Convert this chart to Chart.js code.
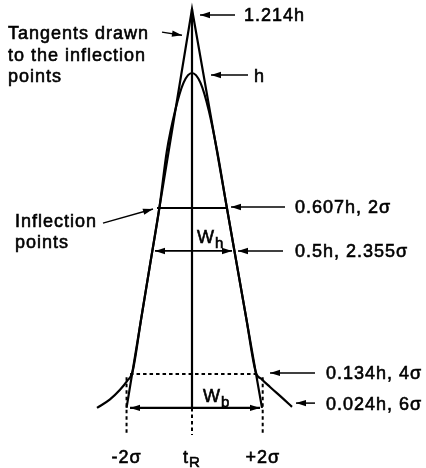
<!DOCTYPE html>
<html lang="en">
<head>
<meta charset="UTF-8">
<title>Gaussian peak | tangents and widths</title>
<script src="https://cdn.jsdelivr.net/npm/chart.js"></script>
<style>
  html, body { margin: 0; padding: 0; background: #fff; }
  #wrap { width: 426px; height: 468px; }
</style>
</head>
<body>
<div id="wrap"><canvas id="myChart" width="426" height="468"></canvas></div>
<script>
// x in units of sigma (t_R = 0), y in units of peak height h
var peakX = [-2.714, -2.343, -2.057, -1.857, -1.70, -1.45, -1.2, -0.93, -0.72, -0.48, -0.24, 0,
             0.24, 0.48, 0.72, 0.997, 1.25, 1.55, 1.82, 2.0, 2.229, 2.571, 2.857];
var peakY = [0.025, 0.050, 0.078, 0.103, 0.130, 0.286, 0.441, 0.609, 0.772, 0.891, 0.972, 1.0,
             0.972, 0.891, 0.772, 0.607, 0.460, 0.286, 0.130, 0.108, 0.086, 0.055, 0.028];

// tangents through the inflection points: left foot, apex, right foot
var tangentX = [-1.87, 0, 2.0];
var tangentY = [0.025, 1.186, 0.025];

// horizontal levels as drawn
var inflectionLevel = 0.607;
var inflectionX = [-1.0, 1.0];
var halfLevel = 0.482;
var halfWidthX = [-1.057, 1.143];
var dottedLevel = 0.124;
var dottedX = [-1.77, 1.83];
var baseLevel = 0.025;
var baseWidthX = [-1.771, 1.943];
var dropEnd = -0.054;

// axis marks
var tickValues = [-1.87, 0, 2.02];
var tickLabels = ['-2\u03c3', 't', '+2\u03c3'];
var tickSubs = ['', 'R', ''];

// right-hand callouts
var calloutLabels = ['1.214h', 'h', '0.607h, 2\u03c3', '0.5h, 2.355\u03c3', '0.134h, 4\u03c3', '0.024h, 6\u03c3'];
var calloutLevels = [1.169, 0.994, 0.61, 0.482, 0.127, 0.039];
var calloutTail = [1.229, 1.6, 2.657, 2.6, 3.514, 3.514];
var calloutTip = [0.229, 0.543, 1.114, 1.314, 2.229, 2.971];
var calloutTextX = [1.486, 1.771, 2.943, 2.943, 3.829, 3.829];

// left-hand notes
var noteLines = [['Tangents drawn', 'to the inflection', 'points'], ['Inflection', 'points']];
var noteX = [-5.257, -5.057];
var noteBaselines = [[1.099, 1.035, 0.974], [0.5517, 0.4905]];
var noteArrows = [[-0.857, 1.119, -0.286, 1.110], [-2.543, 0.563, -1.114, 0.604]];

var FONT = '18px "Liberation Sans", Arial, sans-serif';
var SUBFONT = '15px "Liberation Sans", Arial, sans-serif';

function seg(x1, y1, x2, y2) { return [{x: x1, y: y1}, {x: x2, y: y2}]; }
function line(data, width, dash) {
  return {
    data: data, showLine: true, borderColor: '#000', backgroundColor: '#000',
    borderWidth: width, borderDash: dash || [], pointRadius: 0, tension: 0,
    borderJoinStyle: 'miter', borderCapStyle: 'butt'
  };
}

var datasets = [];
var curve = line(peakX.map(function (x, i) { return {x: x, y: peakY[i]}; }), 2.2);
curve.cubicInterpolationMode = 'monotone';
datasets.push(curve);
datasets.push(line(tangentX.map(function (x, i) { return {x: x, y: tangentY[i]}; }), 2.2));
datasets.push(line(seg(0, tangentY[1], 0, baseLevel), 2.2));
datasets.push(line(seg(0, baseLevel, 0, dropEnd), 2, [3.5, 3]));
datasets.push(line(seg(tickValues[0], dottedLevel - 0.01, tickValues[0], dropEnd), 2, [3.5, 3]));
datasets.push(line(seg(tickValues[2], dottedLevel - 0.01, tickValues[2], dropEnd), 2, [3.5, 3]));
datasets.push(line(seg(dottedX[0], dottedLevel, dottedX[1], dottedLevel), 2, [3.5, 3]));
datasets.push(line(seg(inflectionX[0], inflectionLevel, inflectionX[1], inflectionLevel), 2.2));
datasets.push(line(seg(halfWidthX[0], halfLevel, halfWidthX[1], halfLevel), 1.7));
datasets.push(line(seg(baseWidthX[0], baseLevel, baseWidthX[1], baseLevel), 2.2));
for (var i = 0; i < calloutLabels.length; i++) {
  datasets.push(line(seg(calloutTail[i], calloutLevels[i], calloutTip[i], calloutLevels[i]), 1.5));
}
noteArrows.forEach(function (a) { datasets.push(line(seg(a[0], a[1], a[2], a[3]), 1.5)); });

var sketchPlugin = {
  id: 'sketch',
  afterDatasetsDraw: function (chart) {
    var c = chart.ctx, sx = chart.scales.x, sy = chart.scales.y;
    function px(v) { return sx.getPixelForValue(v); }
    function py(v) { return sy.getPixelForValue(v); }
    function head(x1, y1, x2, y2) {
      var a = Math.atan2(y2 - y1, x2 - x1), L = 10, W = 3.2;
      c.beginPath();
      c.moveTo(x2, y2);
      c.lineTo(x2 - L * Math.cos(a) + W * Math.sin(a), y2 - L * Math.sin(a) - W * Math.cos(a));
      c.lineTo(x2 - L * Math.cos(a) - W * Math.sin(a), y2 - L * Math.sin(a) + W * Math.cos(a));
      c.closePath();
      c.fill();
    }
    function txt(t, x, y) {
      c.fillText(t, x, y);
      c.strokeText(t, x, y);
    }
    function sub(main, s, x, y, dy) {
      c.font = FONT;
      txt(main, x, y);
      var w = c.measureText(main).width;
      c.font = SUBFONT;
      txt(s, x + w, y + dy);
      c.font = FONT;
    }
    c.save();
    c.fillStyle = '#000';
    c.strokeStyle = '#000';
    c.lineWidth = 0.6;
    try { c.letterSpacing = '1px'; } catch (e) {}

    // arrowheads
    for (var i = 0; i < calloutLabels.length; i++) {
      var yy = py(calloutLevels[i]);
      head(px(calloutTail[i]), yy, px(calloutTip[i]), yy);
    }
    noteArrows.forEach(function (a) { head(px(a[0]), py(a[1]), px(a[2]), py(a[3])); });
    head(px(0), py(halfLevel), px(halfWidthX[0]), py(halfLevel));
    head(px(0), py(halfLevel), px(halfWidthX[1]), py(halfLevel));
    head(px(0), py(baseLevel), px(baseWidthX[0]), py(baseLevel));
    head(px(0), py(baseLevel), px(baseWidthX[1]), py(baseLevel));

    // texts
    c.font = FONT;
    c.textBaseline = 'alphabetic';
    c.textAlign = 'left';
    for (var j = 0; j < calloutLabels.length; j++) {
      txt(calloutLabels[j], px(calloutTextX[j]), py(calloutLevels[j]) + 6.5);
    }
    noteLines.forEach(function (lines, k) {
      lines.forEach(function (t, n) { txt(t, px(noteX[k]), py(noteBaselines[k][n])); });
    });
    sub('W', 'h', px(0.143), py(0.505), 5);
    sub('W', 'b', px(0.314), py(0.042), 5);

    // axis marks under the dotted drops
    var tb = py(-0.1354);
    for (var m = 0; m < tickValues.length; m++) {
      if (tickSubs[m]) {
        c.font = FONT;
        var w1 = c.measureText(tickLabels[m]).width;
        c.font = SUBFONT;
        var w2 = c.measureText(tickSubs[m]).width;
        sub(tickLabels[m], tickSubs[m], px(tickValues[m]) - (w1 + w2) / 2, tb, 4);
      } else {
        c.font = FONT;
        c.textAlign = 'center';
        txt(tickLabels[m], px(tickValues[m]), tb);
        c.textAlign = 'left';
      }
    }
    c.restore();
  }
};

var myChart = new Chart(document.getElementById('myChart'), {
  type: 'scatter',
  data: { datasets: datasets },
  options: {
    responsive: false,
    animation: false,
    layout: { padding: 0 },
    plugins: { legend: { display: false }, tooltip: { enabled: false } },
    scales: {
      x: { type: 'linear', display: false, min: -192 / 35, max: (426 - 192) / 35 },
      y: { type: 'linear', display: false, min: (416.5 - 468) / 343.5, max: 416.5 / 343.5 }
    }
  },
  plugins: [sketchPlugin]
});
</script>
</body>
</html>
